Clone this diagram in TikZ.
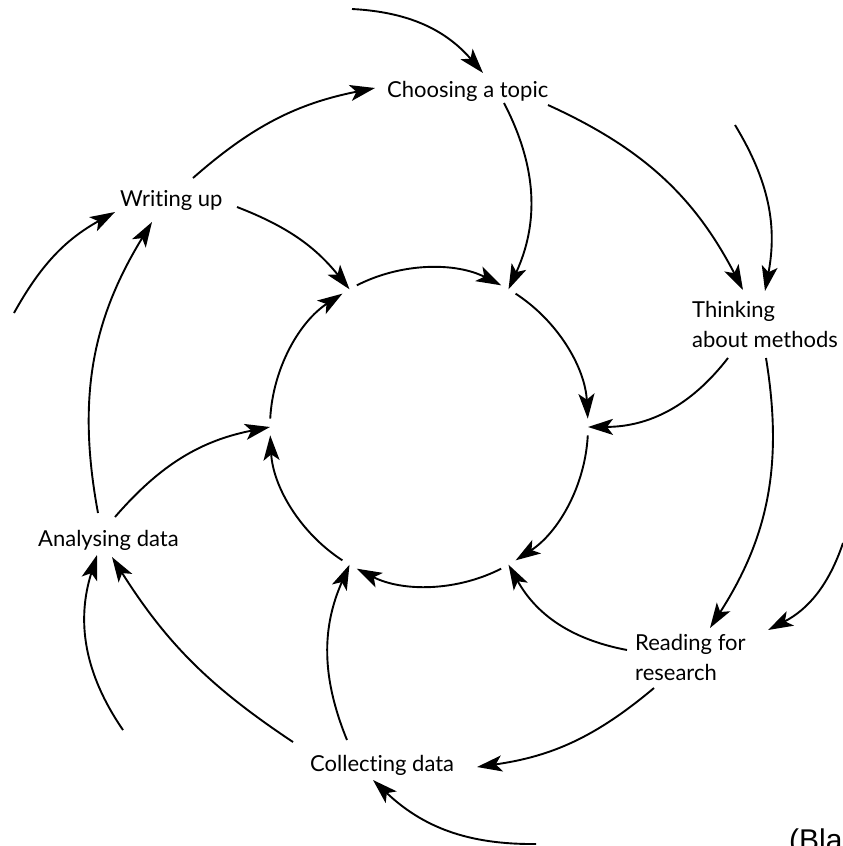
\documentclass[tikz,border=0pt]{standalone}
\usepackage{fontspec}
\setmainfont{Lato}[Ligatures=NoCommon]
\newfontfamily\blafont{Liberation Sans}
\usetikzlibrary{arrows.meta,calc}
\begin{document}
\begin{tikzpicture}[x=1pt,y=1pt,
  conn/.style={line width=1.9pt, -{Stealth[length=25pt,width=16pt,inset=6pt]}},
  lbl/.style={inner sep=0pt, anchor=base west, font=\fontsize{22}{30}\selectfont},
]
\useasboundingbox (0,0) rectangle (843,-846);
% centre of the inner cycle
\coordinate (C) at (429,-427);
\def\R{159}
\foreach \g/\n in {0/g0,60/g60,120/g120,180/g180,-60/gm60,-120/gm120}{
  \coordinate (\n) at ($(C)+(\g:\R)$);
}
% inner circle arcs (clockwise)
\foreach \a/\b in {117/63,57/3,-3/-57,-63/-117,-123/-177,177/123}{
  \draw[conn] ($(C)+(\a:\R)$) arc[start angle=\a, end angle=\b, radius=\R];
}
% labels
\node[lbl] (ct) at (387,-97) {Choosing a topic};
\node[lbl] (wu) at (120,-206) {Writing up};
\node[lbl] (tm) at (692,-317) {\begin{tabular}[t]{@{}l@{}}Thinking\\about methods\end{tabular}};
\node[lbl] (rr) at (635,-650) {\begin{tabular}[t]{@{}l@{}}Reading for\\research\end{tabular}};
\node[lbl] (cd) at (310,-771) {Collecting data};
\node[lbl] (ad) at (38,-546) {Analysing data};
\node[inner sep=0pt, anchor=base west, font=\blafont\fontsize{30}{36}\selectfont] (bla) at (789,-850) {(Bla};
% free ends
\coordinate (f1) at (352,-9);
\coordinate (f2) at (735,-125);
\coordinate (f3) at (843,-543);
\coordinate (f4) at (536,-844);
\coordinate (f5) at (123,-730);
\coordinate (f6) at (14,-313);
% connectors
\draw[conn] (f1) to[bend left=23] ([shift={(96,24)}]ct.base west);
\draw[conn] ([shift={(73,28)}]wu.base west) to[bend left=15] ([shift={(-12,9)}]ct.base west);
\draw[conn] ([shift={(117,-6)}]ct.base west) to[bend left=26] (g60);
\draw[conn] ([shift={(161,-8)}]ct.base west) to[bend left=19] ([shift={(51,27)}]tm.base west);
\draw[conn] (f2) to[bend left=21] ([shift={(73,26)}]tm.base west);
\draw[conn] ([shift={(36,-41)}]tm.base west) to[bend left=26] (g0);
\draw[conn] ([shift={(74,-41)}]tm.base west) to[bend left=21] ([shift={(75,22)}]rr.base west);
\draw[conn] (f3) to[bend left=22] ([shift={(133,20)}]rr.base west);
\draw[conn] ([shift={(-8,0)}]rr.base west) to[bend left=25] (gm60);
\draw[conn] ([shift={(19,-38)}]rr.base west) to[bend left=16] ([shift={(167,4)}]cd.base west);
\draw[conn] (f4) to[bend left=22] ([shift={(63,-9)}]cd.base west);
\draw[conn] ([shift={(37,31)}]cd.base west) to[bend left=23] (gm120);
\draw[conn] ([shift={(-17,29)}]cd.base west) to[bend left=12] ([shift={(74,-11)}]ad.base west);
\draw[conn] (f5) to[bend left=26] ([shift={(59,-9)}]ad.base west);
\draw[conn] ([shift={(77,29)}]ad.base west) to[bend left=19] (g180);
\draw[conn] ([shift={(60,33)}]ad.base west) to[bend left=21] ([shift={(32,-16)}]wu.base west);
\draw[conn] (f6) to[bend left=16] ([shift={(-5,-6)}]wu.base west);
\draw[conn] ([shift={(117,-1)}]wu.base west) to[bend left=15] (g120);
\end{tikzpicture}
\end{document}
